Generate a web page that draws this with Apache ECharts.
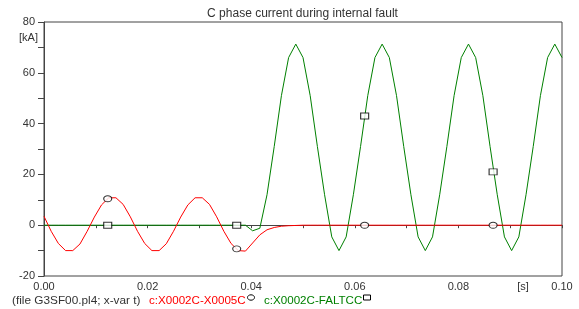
<!DOCTYPE html>
<html>
<head>
<meta charset="utf-8">
<script src="https://cdn.jsdelivr.net/npm/echarts@6/dist/echarts.min.js"></script>
<style>
  html, body { margin: 0; padding: 0; background: #fff; }
  #chart { width: 579px; height: 309px; }
</style>
</head>
<body>
<div id="chart"></div>
<script>
// samples every 1/720 s (12 per 60 Hz cycle)
const DT = 1 / 720;

// c:X0002C-X0005C [kA]
const redValues = [
  3.5, -2.4, -7.2, -10, -10, -7.4, -2.4, 3.2, 8, 10.8, 10.8, 8.2,
  3.3, -2.4, -7.2, -10, -10, -7.3, -2.4, 3.2, 8, 10.8, 10.8, 8.2,
  3.3, -2.4, -7.2, -10, -10.2, -7, -3.8, -1.8, -0.9, -0.4, -0.2, -0.1,
  0, 0, 0, 0, 0, 0, 0, 0, 0, 0, 0, 0,
  0, 0, 0, 0, 0, 0, 0, 0, 0, 0, 0, 0,
  0, 0, 0, 0, 0, 0, 0, 0, 0, 0, 0, 0,
  0
];

// c:X0002C-FALTCC [kA]
const greenValues = [
  0, 0, 0, 0, 0, 0, 0, 0, 0, 0, 0, 0,
  0, 0, 0, 0, 0, 0, 0, 0, 0, 0, 0, 0,
  0, 0, 0, 0, 0, -2.2, -1.2,
  12, 31, 51, 66, 71.3, 66, 51, 31, 12, -4.6, -10, -4.6,
  12, 31, 51, 66, 71.3, 66, 51, 31, 12, -4.6, -10, -4.6,
  12, 31, 51, 66, 71.3, 66, 51, 31, 12, -4.6, -10, -4.6,
  12, 31, 51, 66, 71.3, 66
];

// identification markers on the curves
const markerTimes = [0.0123, 0.0372, 0.0619, 0.0867];
const redMarkers = [10.4, -9.3, 0, 0];
const greenMarkers = [0, 0, 43, 21];

const titleText = 'C phase current during internal fault';
const fileText = '(file G3SF00.pl4; x-var t)';
const redName = 'c:X0002C-X0005C';
const greenName = 'c:X0002C-FALTCC';
const yUnit = '[kA]';
const xUnit = '[s]';

const FONT = 'Liberation Sans, Arial, sans-serif';
const RED = '#ff0000';
const GREEN = '#008000';
const INK = '#333';

const toPairs = vals => vals.map((v, i) => [i * DT, v]);
const zip = (xs, ys) => xs.map((x, i) => [x, ys[i]]);

const chart = echarts.init(document.getElementById('chart'), null, { renderer: 'canvas' });

chart.setOption({
  animation: false,
  backgroundColor: '#fff',
  grid: { left: 44, top: 22, width: 518, height: 254, show: true, borderColor: '#444', borderWidth: 1 },
  xAxis: {
    type: 'value', min: 0, max: 0.1, interval: 0.01,
    axisLine: { lineStyle: { color: '#444', width: 1 } },
    axisTick: { length: 3, lineStyle: { color: '#444' } },
    splitLine: { show: false },
    axisLabel: {
      color: INK, fontSize: 11, fontFamily: FONT, margin: 5,
      formatter: v => (Math.round(v * 100) % 2 === 0 ? v.toFixed(2) : '')
    }
  },
  yAxis: {
    type: 'value', min: -20, max: 80, interval: 10,
    axisLine: { lineStyle: { color: '#444', width: 1 } },
    axisTick: { length: 6, lineStyle: { color: '#444' } },
    splitLine: { show: false },
    axisLabel: {
      color: INK, fontSize: 11, fontFamily: FONT, margin: 9,
      formatter: v => (v % 20 === 0 ? String(v) : '')
    }
  },
  series: [
    {
      name: greenName, type: 'line', data: toPairs(greenValues),
      showSymbol: false, symbol: 'none', z: 2,
      lineStyle: { color: GREEN, width: 1 }
    },
    {
      name: redName, type: 'line', data: toPairs(redValues),
      showSymbol: false, symbol: 'none', z: 3,
      lineStyle: { color: RED, width: 1 }
    },
    {
      type: 'scatter', data: zip(markerTimes, redMarkers), z: 5,
      symbol: 'circle', symbolSize: [8, 6],
      itemStyle: { color: '#fff', borderColor: '#000', borderWidth: 1 }
    },
    {
      type: 'scatter', data: zip(markerTimes, greenMarkers), z: 5,
      symbol: 'rect', symbolSize: [8, 6],
      itemStyle: { color: '#fff', borderColor: '#000', borderWidth: 1 }
    }
  ],
  graphic: [
    { type: 'text', x: 302.5, y: 14, style: { text: titleText, fill: INK, font: '12px ' + FONT, textAlign: 'center', textVerticalAlign: 'middle' } },
    { type: 'text', x: 38, y: 38, style: { text: yUnit, fill: INK, font: '11px ' + FONT, textAlign: 'right', textVerticalAlign: 'middle' } },
    { type: 'text', x: 523, y: 287, style: { text: xUnit, fill: INK, font: '11px ' + FONT, textAlign: 'center', textVerticalAlign: 'middle' } },
    { type: 'text', x: 12, y: 301, style: { text: fileText, fill: INK, font: '11.8px ' + FONT, textAlign: 'left', textVerticalAlign: 'middle' } },
    { type: 'text', x: 149, y: 301, style: { text: redName, fill: RED, font: '11.6px ' + FONT, textAlign: 'left', textVerticalAlign: 'middle' } },
    { type: 'ellipse', shape: { cx: 251, cy: 297.5, rx: 3.5, ry: 2.7 }, style: { fill: '#fff', stroke: '#000', lineWidth: 1 } },
    { type: 'text', x: 264, y: 301, style: { text: greenName, fill: GREEN, font: '11.6px ' + FONT, textAlign: 'left', textVerticalAlign: 'middle' } },
    { type: 'rect', shape: { x: 363.5, y: 295, width: 7, height: 5 }, style: { fill: '#fff', stroke: '#000', lineWidth: 1 } }
  ]
});
</script>
</body>
</html>
